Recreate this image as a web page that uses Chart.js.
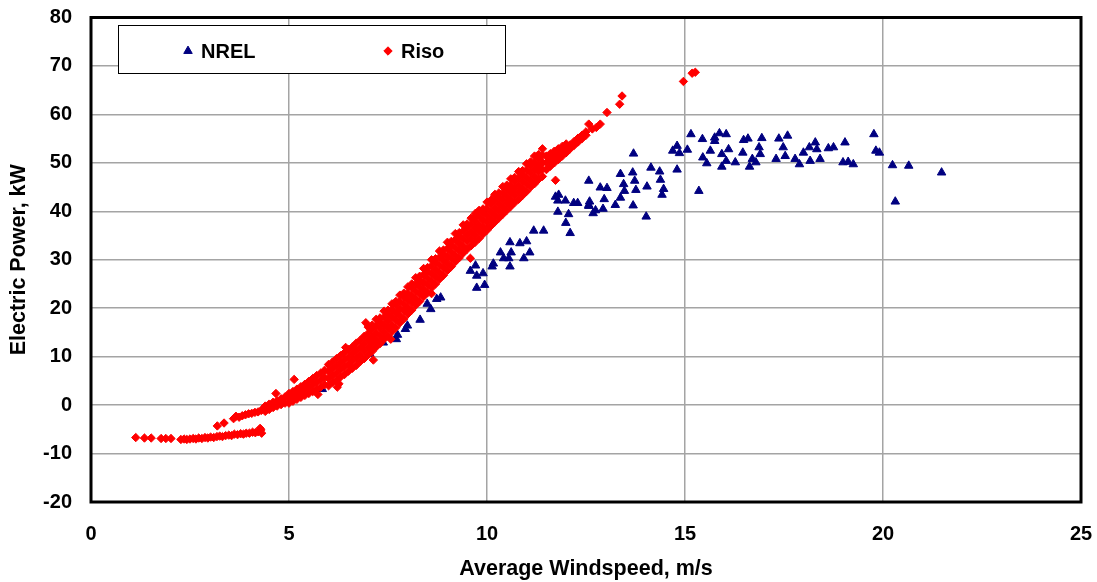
<!DOCTYPE html>
<html>
<head>
<meta charset="utf-8">
<script src="https://cdn.jsdelivr.net/npm/chart.js@4.4.1/dist/chart.umd.min.js"></script>
<style>
  html, body { margin: 0; padding: 0; background: #ffffff; }
  #wrap { width: 1097px; height: 582px; position: relative; }
</style>
</head>
<body>
<div id="wrap"><canvas id="powerCurve"></canvas></div>
<script>
// Series names and axis ticks
const seriesNames = ['NREL', 'Riso'];
const speedTicks = [0, 5, 10, 15, 20, 25];
const powerTicks = [-20, -10, 0, 10, 20, 30, 40, 50, 60, 70, 80];
const axisTitles = { x: 'Average Windspeed, m/s', y: 'Electric Power, kW' };

// NREL measurements: [average windspeed m/s, electric power kW]
const nrelPoints = [
  [5.84,3.3],[7.04,10.6],[7.38,12.9],[7.71,13.6],[7.74,14.5],[7.94,15.7],[7.99,16.4],[8.31,17.6],
  [8.49,20.9],[8.58,19.8],[8.73,21.9],[8.83,22.2],[9.58,27.7],[9.71,28.8],[9.74,26.7],[9.90,27.2],
  [9.74,24.2],[9.94,24.8],[10.13,28.6],[10.16,29.2],[10.58,28.6],[10.34,31.5],[10.42,30.3],[10.55,30.3],
  [10.61,31.5],[10.93,30.3],[11.08,31.5],[10.58,33.6],[10.83,33.4],[11.00,33.8],[11.18,36.0],[11.43,36.0],
  [11.79,39.9],[11.99,37.6],[12.06,39.4],[12.10,35.5],[11.81,43.4],[11.79,42.2],[11.98,42.2],[12.19,41.7],
  [12.29,41.7],[12.59,42.0],[12.57,41.3],[12.74,40.2],[12.68,39.6],[12.93,40.5],[12.96,42.5],[12.57,46.3],
  [12.86,44.9],[13.03,44.8],[13.24,41.3],[13.37,42.8],[13.47,44.2],[13.45,45.6],[13.37,47.7],[13.68,48.0],
  [13.70,51.9],[13.73,46.3],[13.76,44.4],[13.69,41.2],[14.02,38.9],[14.04,45.1],[14.14,49.0],[14.36,48.2],
  [14.38,46.5],[14.46,44.6],[14.42,43.4],[14.80,48.6],[15.35,44.2],[14.80,53.5],[14.69,52.5],[14.86,52.0],
  [15.06,52.7],[15.15,55.9],[15.44,54.9],[15.75,55.2],[15.87,56.1],[16.04,55.9],[15.75,54.5],[15.45,51.1],
  [15.55,49.9],[15.64,52.5],[15.93,51.8],[16.10,52.8],[16.04,50.4],[15.93,49.2],[16.27,50.1],[16.46,52.1],
  [16.48,54.7],[16.59,55.0],[16.94,55.1],[16.70,50.8],[16.63,49.2],[16.79,50.1],[16.87,53.2],[16.90,51.8],
  [17.37,55.0],[17.59,55.6],[17.48,53.2],[17.30,50.8],[17.53,51.4],[17.78,50.8],[17.89,49.7],[17.99,52.1],
  [18.14,53.2],[18.29,54.2],[18.33,52.8],[18.16,50.4],[18.41,50.8],[18.62,53.0],[18.75,53.2],[19.04,54.2],
  [18.99,50.1],[19.12,50.2],[19.25,49.7],[19.77,55.9],[19.82,52.5],[19.91,52.1],[20.24,49.5],[20.31,42.0],
  [20.65,49.4],[21.48,48.0],[12.57,41.1],[11.73,43.0]
];

// Riso measurements in the dense rising band: [windspeed m/s, power kW, power kW, ...]
const risoBand = [
  [4.40,-1.3,-0.2],[4.50,-0.9,0.2],[4.60,-0.5,0.6],[4.70,-0.2,0.9],[4.80,0.1,1.3],[4.90,0.4,1.7],
  [5.00,0.4,1.4,2.4],[5.10,0.8,1.8,2.8],[5.20,1.2,2.3,3.3],[5.30,1.6,2.7,3.8],[5.40,2.0,3.2,4.3],
  [5.50,2.4,3.7,4.9],[5.60,2.8,4.2,5.5],[5.70,3.3,4.7,6.1],[5.80,3.7,5.2,6.6],[5.90,4.2,5.7,7.2],
  [6.00,4.0,5.5,6.9,8.4],[6.10,4.7,6.1,7.5,8.9],[6.20,5.2,6.6,8.1,9.6],[6.30,5.8,7.3,8.8,10.2],
  [6.40,6.3,7.9,9.3,10.8],[6.50,7.0,8.4,9.9,11.5],[6.60,7.6,9.1,10.6,12.0],[6.70,8.2,9.8,11.2,12.8],
  [6.80,9.0,10.4,11.9,13.4],[6.90,9.6,11.2,12.6,14.2],[7.00,10.4,11.9,13.4,14.8,16.1],[7.10,11.1,12.7,14.1,15.7,16.5],
  [7.20,12.0,13.4,14.9,16.4,17.7],[7.30,12.7,14.3,15.8,17.2,18.0],[7.40,13.6,15.1,16.5,18.1,19.4],[7.50,14.3,15.9,17.3,18.8,19.6],
  [7.60,15.2,16.6,18.2,19.6,20.9],[7.70,16.0,17.6,19.0,20.6,21.4],[7.80,17.0,18.4,19.9,21.4,22.7],[7.90,17.8,19.4,20.8,22.3,23.1],
  [8.00,18.8,20.2,21.7,23.1,24.4],[8.10,19.6,21.2,22.6,24.2,25.0],[8.20,20.6,22.0,23.5,25.0,26.3],[8.30,21.4,23.0,24.4,25.8,26.6],
  [8.40,22.4,23.8,25.3,26.9,28.2],[8.50,23.2,24.8,26.2,27.6,28.4],[8.60,24.2,25.6,27.1,28.7,30.0],[8.70,25.0,26.6,28.0,29.4,30.2],
  [8.80,26.0,27.4,28.9,30.5,31.8],[8.90,26.8,28.4,29.8,31.2,32.0],[9.00,27.8,29.2,30.7,32.3,33.6],[9.10,28.6,30.2,31.6,33.0,33.8],
  [9.20,29.6,31.0,32.5,34.1,35.4],[9.30,30.4,32.0,33.4,34.8,35.6],[9.40,31.4,32.8,34.3,35.9,37.2],[9.50,32.2,33.8,35.1,36.6,37.4],
  [9.60,32.9,34.4,35.8,37.3,38.6],[9.70,33.6,35.1,36.5,38.0,38.8],[9.80,34.4,35.9,37.3,38.9,40.2],[9.90,35.3,36.7,38.2,39.7,40.5],
  [10.00,36.1,37.7,39.1,40.6,41.9],[10.10,37.0,38.4,39.9,41.5,42.3],[10.20,37.8,39.3,40.7,42.2,43.5],[10.30,38.6,40.1,41.5,43.0,43.8],
  [10.40,39.4,40.9,42.4,43.8,45.1],[10.50,40.2,41.7,43.1,44.6,45.4],[10.60,41.0,42.5,43.9,45.4,46.7],[10.70,41.8,43.3,44.7,46.2,47.0],
  [10.80,42.5,44.0,45.4,46.9,48.2],[10.90,43.3,44.7,46.2,47.6,48.4],[11.00,44.1,45.6,47.0,48.5,49.8],[11.10,45.0,46.4,47.9,49.4,50.2],
  [11.20,45.7,47.2,48.6,50.1,51.4],[11.30,46.6,48.1,49.5,50.9,51.7],[11.40,47.2,48.7,50.1,51.6,52.9],
  [11.50,48.6,50.0,51.4],[11.60,49.3,50.6,51.9],[11.70,50.0,51.2,52.4],[11.80,50.7,51.8,52.9],
  [11.90,51.4,52.4,53.4],[12.00,52.1,53.0,53.9],[12.10,52.9,53.7],[12.20,53.6,54.4],[12.30,54.3,55.1],
  [12.40,55.0,55.7],[12.50,55.7,56.4]
];

// Riso measurements outside the band: [windspeed m/s, power kW]
const risoPoints = [
  [1.13,-6.7],[1.35,-6.8],[1.52,-6.8],[1.77,-6.9],[1.89,-6.9],[2.02,-6.9],
  [2.27,-7.1],[2.35,-7.0],[2.42,-7.1],[2.50,-7.0],[2.58,-6.9],[2.65,-7.0],[2.72,-6.8],[2.80,-6.9],
  [2.88,-6.7],[2.95,-6.8],[3.02,-6.6],[3.10,-6.7],[3.18,-6.5],[3.25,-6.4],[3.32,-6.5],[3.40,-6.3],
  [3.48,-6.2],[3.55,-6.3],[3.62,-6.0],[3.70,-6.1],[3.78,-5.9],[3.85,-6.0],[3.92,-5.8],[4.00,-5.8],
  [4.08,-5.6],[4.15,-5.7],[4.22,-5.5],[4.29,-5.1],[4.31,-5.8],
  [3.19,-4.3],[3.36,-3.7],[3.60,-2.8],[3.66,-2.3],[3.74,-2.5],[3.82,-2.2],[3.90,-2.0],[3.98,-1.8],
  [4.06,-1.7],[4.14,-1.5],[4.22,-1.4],[4.30,-1.1],[4.35,-0.7],
  [12.57,58.0],[12.66,57.0],[12.76,57.3],[12.86,58.0],[13.03,60.4],[13.35,62.1],[13.41,63.8],
  [14.96,66.8],[15.18,68.5],[15.26,68.7],
  [11.73,46.4],[10.20,43.3],[9.71,39.6],[9.58,30.3],[8.60,23.0],[6.94,17.0],[6.43,11.9],
  [5.13,5.3],[4.67,2.4],[6.22,3.7],[6.26,4.4],[7.13,9.3],[5.73,2.2],[7.57,13.6],[4.27,-4.8]
];

const FONT = '"Liberation Sans", Arial, sans-serif';

// Dataset rows for the Riso series: band rows expanded, then the scattered readings
const risoData = [];
risoBand.forEach(row => row.slice(1).forEach(p => risoData.push({ x: row[0], y: p })));
risoPoints.forEach(p => risoData.push({ x: p[0], y: p[1] }));
const nrelData = nrelPoints.map(p => ({ x: p[0], y: p[1] }));

// White legend box with border, drawn inside the plot area
const boxLegend = {
  id: 'boxLegend',
  afterDraw(chart) {
    const ctx = chart.ctx;
    ctx.save();
    ctx.fillStyle = '#ffffff';
    ctx.fillRect(118.5, 25.5, 387, 48);
    ctx.strokeStyle = '#000000';
    ctx.lineWidth = 1;
    ctx.strokeRect(118.5, 25.5, 387, 48);
    const slots = [188, 388];
    chart.data.datasets.forEach((ds, i) => {
      const x = slots[i], y = 51;
      ctx.fillStyle = ds.pointBackgroundColor;
      ctx.strokeStyle = ds.pointBorderColor;
      ctx.lineWidth = 1;
      Chart.helpers.drawPoint(ctx, {
        pointStyle: ds.pointStyle, radius: ds.pointRadius, rotation: 0, borderWidth: 1
      }, x, y);
      ctx.fillStyle = '#000000';
      ctx.font = 'bold 20px ' + FONT;
      ctx.textAlign = 'left';
      ctx.textBaseline = 'middle';
      ctx.fillText(ds.label, x + 13, y + 1);
    });
    ctx.restore();
  }
};

// Heavy black frame around the plot area
const plotFrame = {
  id: 'plotFrame',
  afterDatasetsDraw(chart) {
    const a = chart.chartArea, ctx = chart.ctx;
    ctx.save();
    ctx.strokeStyle = '#000000';
    ctx.lineWidth = 3;
    ctx.strokeRect(a.left, a.top, a.right - a.left, a.bottom - a.top);
    ctx.restore();
  }
};

new Chart(document.getElementById('powerCurve'), {
  type: 'scatter',
  data: {
    datasets: [
      {
        label: seriesNames[0],
        data: nrelData,
        pointStyle: 'triangle',
        pointRadius: 4.9,
        pointBackgroundColor: '#000080',
        pointBorderColor: '#000080',
        pointBorderWidth: 1,
        order: 2
      },
      {
        label: seriesNames[1],
        data: risoData,
        pointStyle: 'rectRot',
        pointRadius: 4.2,
        pointBackgroundColor: '#ff0000',
        pointBorderColor: '#ff0000',
        pointBorderWidth: 1,
        order: 1
      }
    ]
  },
  options: {
    responsive: true,
    maintainAspectRatio: false,
    animation: false,
    events: [],
    layout: { padding: { left: 0, top: 17.5, right: 16, bottom: 0 } },
    plugins: { legend: { display: false }, tooltip: { enabled: false } },
    scales: {
      x: {
        type: 'linear',
        min: 0, max: 25,
        afterBuildTicks: s => { s.ticks = speedTicks.map(v => ({ value: v })); },
        afterFit: s => { s.height = 80; },
        grid: { color: '#a4a4a4', lineWidth: 1.5, drawTicks: true, tickLength: 20,
                tickColor: 'rgba(0,0,0,0)' },
        border: { display: false },
        ticks: { color: '#000000', padding: 0, maxRotation: 0,
                 font: { family: FONT, size: 20, weight: 'bold' } },
        title: { display: true, text: axisTitles.x, color: '#000000',
                 padding: { top: 0, bottom: 0 },
                 font: { family: FONT, size: 21.5, weight: 'bold' } }
      },
      y: {
        type: 'linear',
        min: -20, max: 80,
        afterBuildTicks: s => { s.ticks = powerTicks.map(v => ({ value: v })); },
        afterFit: s => { s.width = 91; },
        grid: { color: '#a4a4a4', lineWidth: 1.5, drawTicks: true, tickLength: 19,
                tickColor: 'rgba(0,0,0,0)' },
        border: { display: false },
        ticks: { color: '#000000', padding: 0,
                 font: { family: FONT, size: 20, weight: 'bold' } },
        title: { display: true, text: axisTitles.y, color: '#000000',
                 padding: { top: 6, bottom: 0 },
                 font: { family: FONT, size: 21.5, weight: 'bold' } }
      }
    }
  },
  plugins: [boxLegend, plotFrame]
});
</script>
</body>
</html>
